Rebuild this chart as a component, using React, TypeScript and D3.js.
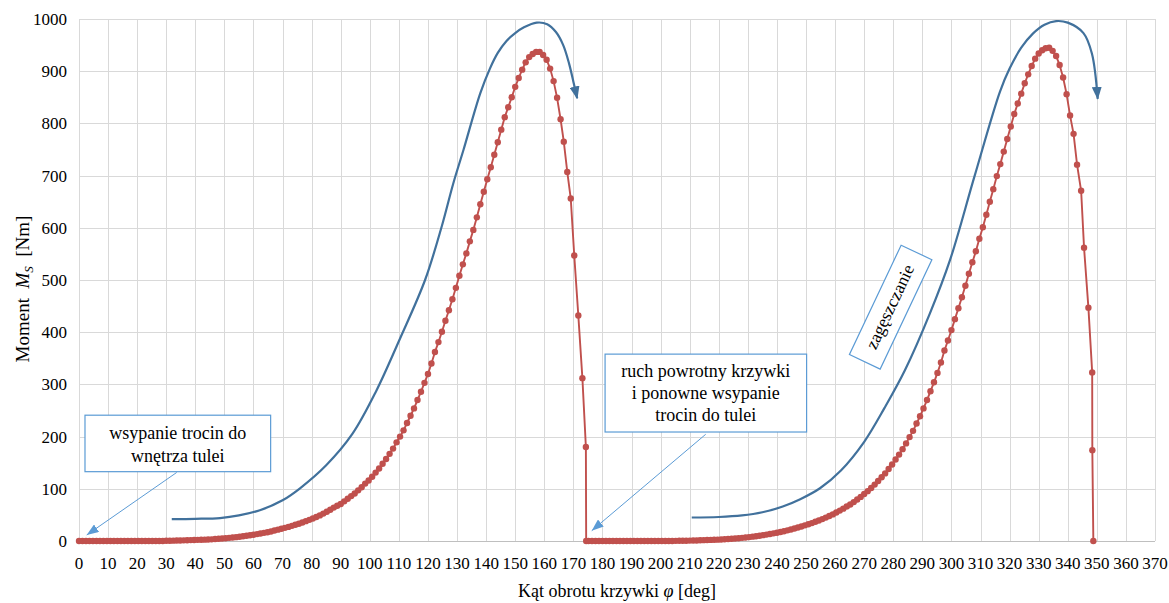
import React from 'react';
import * as d3 from 'd3';

// ---------- data ----------
const xTicks = [0,10,20,30,40,50,60,70,80,90,100,110,120,130,140,150,160,170,180,190,200,210,220,230,240,250,260,270,280,290,300,310,320,330,340,350,360,370];
const yTicks = [0,100,200,300,400,500,600,700,800,900,1000];

// red measured series, sampled every RED_STEP degrees
const RED_STEP = 1.2;
const RED1_START = 0;
const red1Rise = [
  0,0,0,0,0,0,0,0,0,0,0,0,0,0,0,0,0,0,0,0,0,0,0,0,0,
  0.5,0.6,0.7,0.9,1,1.2,1.4,1.7,2,2.2,2.4,2.6,2.9,3.2,3.8,4.2,4.7,5.2,6,6.7,7.4,8.1,9,10,11,
  12,13.2,14.4,15.6,16.8,18.3,20,21.7,23.4,25.2,27,29,31,33,35.5,38,40.5,43,46,49,52.5,56,60,64,67.5,
  71,76,81,86,91,97,103,110,116,123,131,139,148,157,167,177,189,200,212,226,240,254,270,286,303,320,340,
  362,381,401,422,442,463,485,508,530,551,574,596,620,645,669,693,716,740,764,788,812,831,850,870,887,
  903,917,927,933,937,937,931,922,905,881,849,808
];
const red1DropAngles = [166.7,167.9,169.1,170.3,171.7,173.1,174.3,174.4];
const red1DropValues = [765,707,656,547,432,312,180,0];

const RED2_START = 175.2;
const red2Rise = [
  0,0,0,0,0,0,0,0,0,0,0,0,0,0,0,0,0,0,0,0,0,0,0,0,0,
  0.3,0.4,0.5,0.6,0.8,1,1.1,1.3,1.6,1.9,2.1,2.3,2.6,2.9,3.3,3.7,4.2,4.7,5.3,6,6.7,7.5,8.3,9.2,10.2,
  11.2,12.3,13.5,14.7,15.9,17.2,18.7,20.4,22.1,24,25.9,27.9,30,32,34.3,36.8,39.3,42,44.8,47.8,51,54.5,
  58.2,62,66,70,74.5,79.5,84.5,90,95.5,101.5,108,115,122,129.5,138,146.5,156,165.5,176,187,199,211,225,
  239,254,270,287,304,322,342,
  365,384,404,425,446,467,489,512,534,555,579,601,625,650,674,699,722,746,770,794,818,838,857,877,894,
  910,924,934,940,944,945,939,929,912,888,856,815
];
const red2DropAngles = [342.0,343.2,344.6,345.6,347.1,348.4,348.45,348.8];
const red2DropValues = [780,721,671,562,447,323,174,0];

// blue hand-drawn trend arrows [angle, value]
const blue1: [number, number][] = [
  [31.9,42],[40,42.5],[48.5,44],[55,49],[62.2,59],[70,78],[76,101],[85,145],[94,205],[102,285],
  [110.4,388],[119,500],[124.7,602],[128.7,685],[132.2,749],[138,858],[141.3,905],[144,935],
  [147,958],[150,973],[153,984],[157.4,993],[161,990],[164,975],[166.5,950],[168.5,915],[170,880],[171.3,848]
];
const blue2: [number, number][] = [
  [210.7,45],[220,46],[228,49],[235,55],[242,66],[248,80],[254.8,101],[262,135],[270,190],[277,255],
  [284,327],[292.6,436],[299.5,538],[308,700],[316.7,861],[320,905],[324,945],[328,972],[332,989],
  [336,996],[340,993],[345.4,973],[348.3,934],[350.3,847]
];

// annotations (data coordinates)
const note1Lines = ['wsypanie trocin do', 'wnętrza tulei'];
const note2Lines = ['ruch powrotny krzywki', 'i ponowne wsypanie', 'trocin do tulei'];
const note3Text = 'zagęszczanie';

// ---------- layout ----------
const W = 1169, H = 603;
const PX_LEFT = 79, PX_RIGHT = 1155, PX_BOTTOM = 541, PX_TOP = 19;
const FONT = 'Liberation Serif, Tinos, Times New Roman, DejaVu Serif, serif';
const RED = '#C0504D';
const BLUE = '#41719C';
const NOTE = '#5B9BD5';
const GRID = '#D9D9D9';

type P = { a: number; v: number };

export default function App() {
  const x = d3.scaleLinear().domain([0, 370]).range([PX_LEFT, PX_RIGHT]);
  const y = d3.scaleLinear().domain([0, 1000]).range([PX_BOTTOM, PX_TOP]);

  const red: P[] = [
    ...red1Rise.map((v, i) => ({ a: RED1_START + i * RED_STEP, v })),
    ...red1DropAngles.map((a, i) => ({ a, v: red1DropValues[i] })),
    ...red2Rise.map((v, i) => ({ a: RED2_START + i * RED_STEP, v })),
    ...red2DropAngles.map((a, i) => ({ a, v: red2DropValues[i] })),
  ];
  const redLine = d3.line<P>().x(d => x(d.a)).y(d => y(d.v))(red) || '';
  const blueLine = d3.line<[number, number]>()
    .x(d => x(d[0])).y(d => y(d[1]))
    .curve(d3.curveCatmullRom.alpha(0.5));

  const b1 = { x0: x(2.06), x1: x(65.9), y0: y(241), y1: y(132.8) };
  const b2 = { x0: x(180.9), x1: x(250.2), y0: y(358), y1: y(208.8) };
  const l1 = { x0: x(33.6), y0: y(131.3), x1: x(2.65), y1: y(11.5) };
  const l2 = { x0: x(215.5), y0: y(204.4), x1: x(176.3), y1: y(19.7) };
  const b3c = { x: x(279.1), y: y(448) };

  const tf = { fontFamily: FONT };

  return (
    <div style={{ position: 'absolute', left: 0, top: 0 }}>
      <svg width={W} height={H} style={{ display: 'block', background: '#fff', fontFamily: FONT }}>
        <defs>
          <marker id="bArrow" viewBox="0 0 13 10" refX="12" refY="5" markerWidth="13" markerHeight="10"
            markerUnits="userSpaceOnUse" orient="auto">
            <path d="M0,0 L13,5 L0,10 Z" fill={BLUE} />
          </marker>
          <marker id="nArrow" viewBox="0 0 12 9" refX="12" refY="4.5" markerWidth="12" markerHeight="9"
            markerUnits="userSpaceOnUse" orient="auto">
            <path d="M0,0 L12,4.5 L0,9 Z" fill={NOTE} />
          </marker>
        </defs>

        <g shapeRendering="crispEdges">
          {xTicks.map(t => (
            <line key={'gx' + t} x1={Math.round(x(t)) + 0.5} x2={Math.round(x(t)) + 0.5} y1={PX_TOP} y2={PX_BOTTOM} stroke={GRID} strokeWidth={1} />
          ))}
          {yTicks.map(t => (
            <line key={'gy' + t} x1={PX_LEFT} x2={PX_RIGHT} y1={Math.round(y(t)) + 0.5} y2={Math.round(y(t)) + 0.5} stroke={t === 0 ? '#BFBFBF' : GRID} strokeWidth={1} />
          ))}
        </g>

        <g fontSize={17} fill="#000" style={tf}>
          {xTicks.map(t => (
            <text key={'tx' + t} x={x(t)} y={569} textAnchor="middle">{t}</text>
          ))}
          {yTicks.map(t => (
            <text key={'ty' + t} x={67} y={y(t)} dy="0.35em" textAnchor="end">{t}</text>
          ))}
        </g>

        <text transform="translate(29,289) rotate(-90)" textAnchor="middle" fontSize={19} style={{ ...tf, whiteSpace: 'pre' }}>
          {'Moment  '}<tspan fontStyle="italic">M</tspan><tspan fontStyle="italic" fontSize={13} dy={4}>S</tspan><tspan dy={-4}>{'  [Nm]'}</tspan>
        </text>
        <text x={617} y={597} textAnchor="middle" fontSize={18} style={{ ...tf, whiteSpace: 'pre' }}>
          {'Kąt obrotu krzywki '}<tspan fontStyle="italic">φ</tspan>{' [deg]'}
        </text>

        <path d={blueLine(blue1) || ''} fill="none" stroke={BLUE} strokeWidth={2.2} markerEnd="url(#bArrow)" />
        <path d={blueLine(blue2) || ''} fill="none" stroke={BLUE} strokeWidth={2.2} markerEnd="url(#bArrow)" />

        <path d={redLine} fill="none" stroke={RED} strokeWidth={1.9} />
        {red.map((d, i) => (
          <circle key={'r' + i} cx={x(d.a)} cy={y(d.v)} r={3.2} fill={RED} />
        ))}

        <line x1={l1.x0} y1={l1.y0} x2={l1.x1} y2={l1.y1} stroke={NOTE} strokeWidth={1} markerEnd="url(#nArrow)" />
        <rect x={b1.x0} y={b1.y0} width={b1.x1 - b1.x0} height={b1.y1 - b1.y0} fill="#fff" stroke={NOTE} strokeWidth={1.2} />
        {note1Lines.map((s, i) => (
          <text key={'n1' + i} x={(b1.x0 + b1.x1) / 2} y={b1.y0 + 24 + i * 23} textAnchor="middle" fontSize={18} style={tf}>{s}</text>
        ))}

        <line x1={l2.x0} y1={l2.y0} x2={l2.x1} y2={l2.y1} stroke={NOTE} strokeWidth={1} markerEnd="url(#nArrow)" />
        <rect x={b2.x0} y={b2.y0} width={b2.x1 - b2.x0} height={b2.y1 - b2.y0} fill="#fff" stroke={NOTE} strokeWidth={1.2} />
        {note2Lines.map((s, i) => (
          <text key={'n2' + i} x={(b2.x0 + b2.x1) / 2} y={b2.y0 + 23 + i * 22} textAnchor="middle" fontSize={18} style={tf}>{s}</text>
        ))}

        <g transform={`translate(${b3c.x},${b3c.y}) rotate(-64.7)`}>
          <rect x={-60.5} y={-17} width={121} height={34} fill="#fff" stroke={NOTE} strokeWidth={1.2} />
          <text x={0} y={5} textAnchor="middle" fontSize={17.5} style={tf}>{note3Text}</text>
        </g>
      </svg>
    </div>
  );
}
